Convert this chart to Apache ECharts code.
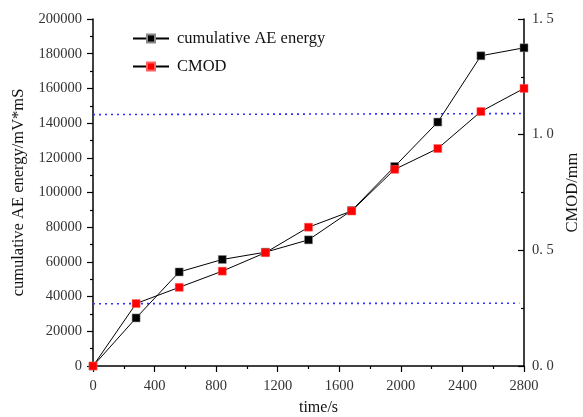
<!DOCTYPE html>
<html><head><meta charset="utf-8">
<script src="https://cdn.jsdelivr.net/npm/echarts@6/dist/echarts.min.js"></script>
<style>html,body{margin:0;padding:0;background:#fff}#c{width:583px;height:417px}</style>
</head><body><div id="c"></div>
<script>
// Sampling times (s) and the two measured quantities
const times = [0, 280, 560, 840, 1120, 1400, 1680, 1960, 2240, 2520, 2800];
const aeEnergy = [0, 27700, 54200, 61400, 65600, 72700, 89600, 115000, 140600, 178800, 183400];
const cmod = [0, 0.27, 0.34, 0.41, 0.49, 0.60, 0.67, 0.85, 0.94, 1.10, 1.20];
// Dotted reference levels (time, energy)
const upperRef = [[0, 144900], [2780, 145500]];
const lowerRef = [[0, 35900], [2770, 36200]];

const serif = 'Liberation Serif';
const chart = echarts.init(document.getElementById('c'));

const refStyle = {
  type: 'line', yAxisIndex: 0, symbol: 'none', silent: true, z: 1,
  lineStyle: { color: '#3030ff', width: 1.6, type: [2, 4] }
};
const plain = v => String(v);

chart.setOption({
  animation: false,
  backgroundColor: '#fff',
  grid: { left: 93, right: 59, top: 19, bottom: 51, containLabel: false, outerBoundsMode: 'none' },
  legend: {
    left: 127, top: 25, orient: 'vertical', itemWidth: 36, itemHeight: 10, itemGap: 11,
    textStyle: { fontFamily: serif, fontSize: 16.5, color: '#111', padding: [0, 0, 0, 3] },
    data: ['cumulative AE energy', 'CMOD']
  },
  xAxis: {
    type: 'value', min: 0, max: 2800, interval: 400,
    name: 'time/s', nameLocation: 'middle', nameGap: 34,
    nameTextStyle: { fontFamily: serif, fontSize: 16, color: '#111', padding: [0, 0, 0, 20] },
    axisLine: { lineStyle: { color: '#000', width: 1.5 } },
    axisTick: { inside: false, length: 6, lineStyle: { color: '#000', width: 1.2 } },
    minorTick: { show: true, splitNumber: 2, length: 3, lineStyle: { color: '#000', width: 1.2 } },
    axisLabel: { fontFamily: serif, fontSize: 14.5, color: '#333', margin: 13, formatter: plain },
    splitLine: { show: false }
  },
  yAxis: [{
    type: 'value', min: 0, max: 200000, interval: 20000, position: 'left',
    name: 'cumulative AE energy/mV*mS', nameLocation: 'middle', nameGap: 61, nameRotate: 90,
    nameTextStyle: { fontFamily: serif, fontSize: 16.5, color: '#111' },
    axisLine: { show: true, lineStyle: { color: '#000', width: 1.5 } },
    axisTick: { show: true, inside: false, length: 6, lineStyle: { color: '#000', width: 1.2 } },
    minorTick: { show: true, splitNumber: 2, length: 3, lineStyle: { color: '#000', width: 1.2 } },
    axisLabel: { fontFamily: serif, fontSize: 14.5, color: '#333', margin: 11, formatter: plain },
    splitLine: { show: false }
  }, {
    type: 'value', min: 0, max: 1.5, interval: 0.5, position: 'right',
    name: 'CMOD/mm', nameLocation: 'middle', nameGap: 38, nameRotate: 90,
    nameTextStyle: { fontFamily: serif, fontSize: 16.5, color: '#111' },
    axisLine: { show: true, lineStyle: { color: '#000', width: 1.5 } },
    axisTick: { show: true, inside: true, length: 6, lineStyle: { color: '#000', width: 1.2 } },
    minorTick: { show: true, splitNumber: 2, length: 3, lineStyle: { color: '#000', width: 1.2 } },
    axisLabel: { fontFamily: serif, fontSize: 14.5, color: '#333', margin: 8,
      formatter: v => v.toFixed(1).replace('.', '. ') },
    splitLine: { show: false }
  }],
  series: [
    Object.assign({ data: upperRef }, refStyle),
    Object.assign({ data: lowerRef }, refStyle),
    {
      name: 'cumulative AE energy', type: 'line', yAxisIndex: 0, z: 3,
      data: times.map((t, i) => [t, aeEnergy[i]]),
      symbol: 'rect', symbolSize: 8,
      lineStyle: { color: '#000', width: 1 },
      itemStyle: { color: '#000', borderColor: '#888', borderWidth: 0.5 }
    },
    {
      name: 'CMOD', type: 'line', yAxisIndex: 1, z: 4,
      data: times.map((t, i) => [t, cmod[i]]),
      symbol: 'rect', symbolSize: 8,
      lineStyle: { color: '#000', width: 1 },
      itemStyle: { color: '#ff0000', borderColor: '#ff6060', borderWidth: 0.5 }
    }
  ]
});
</script></body></html>
